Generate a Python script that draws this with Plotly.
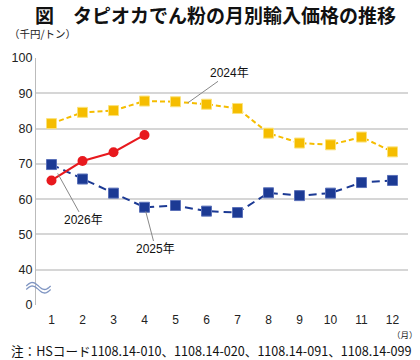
import plotly.graph_objects as go
import numpy as np

months = list(range(1, 13))
month_labels = [str(m) for m in months]
y2024 = [81.4, 84.6, 85.1, 87.8, 87.6, 86.9, 85.7, 78.7, 75.9, 75.4, 77.6, 73.4]
y2025 = [69.8, 65.7, 61.7, 57.7, 58.2, 56.6, 56.2, 61.8, 61.0, 61.7, 64.7, 65.3]
y2026 = [65.3, 70.8, 73.3, 78.2]
ytick_vals = [30, 40, 50, 60, 70, 80, 90, 100]
ytick_text = ["0", "40", "50", "60", "70", "80", "90", "100"]

FONT = "Noto Sans CJK JP"
NUMFONT = "Liberation Sans, Noto Sans CJK JP"
W, H = 420, 360
L, R, T, B = 27, 12, 58, 55
pw, ph = W - L - R, H - T - B

def px2paper(x, y):
    return (x - L) / pw, (H - B - y) / ph

fig = go.Figure()
fig.add_trace(go.Scatter(x=months, y=y2024, mode="lines+markers",
    line=dict(color="#F5BD00", width=2, dash="5px,3px"),
    marker=dict(symbol="square", size=10, color="#F5BD00", line=dict(color="#FBE27A", width=1))))
fig.add_trace(go.Scatter(x=months, y=y2025, mode="lines+markers",
    line=dict(color="#1C3A94", width=2, dash="8px,5px"),
    marker=dict(symbol="square", size=10, color="#1C3A94", line=dict(color="#5A70B8", width=1))))
fig.add_trace(go.Scatter(x=months[:len(y2026)], y=y2026, mode="lines+markers",
    line=dict(color="#E8191E", width=2),
    marker=dict(symbol="circle", size=10, color="#E8191E")))

annos = []
def txt(text, x, y, size, xanchor="center", color="#222", family=FONT):
    px, py = px2paper(x, y)
    annos.append(dict(text=text, xref="paper", yref="paper", x=px, y=py, xanchor=xanchor,
        yanchor="middle", showarrow=False, font=dict(size=size, color=color, family=family)))

txt("<b>図　タピオカでん粉の月別輸入価格の推移</b>", 211, 14, 19, color="#111")
txt("（千円/トン）", -3, 33, 10.5, xanchor="left")
txt("（月）", 420, 334, 8.5, xanchor="right")
txt("注：HSコード1108.14-010、1108.14-020、1108.14-091、1108.14-099", -1, 350, 12.6, xanchor="left", color="#111")

lbl = [("2024年", 5.4, 87.3, 42, -30), ("2026年", 1.2, 67.3, 26, 47), ("2025年", 4.04, 56.5, 10, 38)]
for t, x, y, ax, ay in lbl:
    annos.append(dict(text=t, x=x, y=y, ax=ax, ay=ay, showarrow=True, arrowhead=0, arrowwidth=1,
        arrowcolor="#888", standoff=0, font=dict(size=12, color="#111", family=NUMFONT)))

# wavy axis-break symbol
shapes = []
for off in (0, 3.5):
    xs = np.linspace(17, 42, 30)
    ys = 286 + off - 3.5 * np.sin((xs - 17) / 25 * 2 * np.pi)
    pts = [px2paper(a, b) for a, b in zip(xs, ys)]
    path = "M " + " L ".join(f"{a:.4f},{b:.4f}" for a, b in pts)
    shapes.append(dict(type="path", xref="paper", yref="paper", path=path,
        line=dict(color="#7F95C2", width=1.3)))

fig.update_layout(
    width=W, height=H, margin=dict(l=L, r=R, t=T, b=B),
    paper_bgcolor="white", plot_bgcolor="white", showlegend=False,
    font=dict(family=FONT, size=11, color="#222"),
    annotations=annos, shapes=shapes,
    xaxis=dict(range=[0.5, 12.5], tickvals=months, ticktext=month_labels, showgrid=False,
        zeroline=False, showline=False, ticks="outside", ticklen=4, tickcolor="rgba(0,0,0,0)",
        tickfont=dict(size=12, color="#222", family=NUMFONT), fixedrange=True),
    yaxis=dict(range=[30, 100], tickvals=ytick_vals, ticktext=ytick_text, showgrid=True,
        gridcolor="#D6D6D6", gridwidth=1.5, zeroline=False, showline=True, linecolor="#BBBBBB",
        linewidth=1.2, ticks="", tickfont=dict(size=12.5, color="#222", family=NUMFONT), fixedrange=True),
)

fig.write_html("out.html")
